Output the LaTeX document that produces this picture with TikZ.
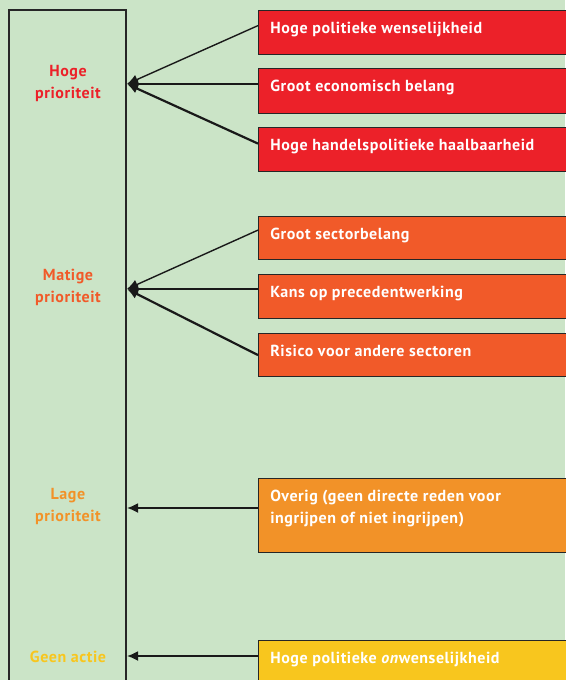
\documentclass[tikz,border=0pt]{standalone}
\usepackage{fontspec}
\setmainfont{PT Sans}
\usetikzlibrary{arrows.meta}

\definecolor{bgGroen}{HTML}{CBE4C7}
\definecolor{rood}{HTML}{EC2129}
\definecolor{oranjerood}{HTML}{F15A29}
\definecolor{oranje}{HTML}{F29228}
\definecolor{geel}{HTML}{F8C61E}

\newcommand{\lettertype}{\bfseries\fontsize{16}{22}\selectfont\addfontfeature{LetterSpace=3.5}}

\tikzset{
  reden/.style={draw=black!85, line width=1.2pt, anchor=north west, minimum width=330pt, inner sep=0pt},
  redtxt/.style={anchor=north west, text=white, font=\lettertype, align=left, inner sep=0pt},
  priotxt/.style={align=center, font=\lettertype},
  pijl/.style={-{Latex[length=11pt,width=10pt]}, line width=1.8pt, black!90}
}

\begin{document}
\begin{tikzpicture}[x=1pt, y=-1pt, >=latex, semithick]
  \useasboundingbox[fill=bgGroen] (0,0) rectangle (565,680);

  % prioriteitenkolom
  \draw[black!85, line width=1.2pt] (126,700) -- (126,10) -- (9,10) -- (9,700);
  \path (68,83) node[priotxt, text=rood] (hoog) {Hoge\\prioriteit};
  \path (68,287) node[priotxt, text=oranjerood] (matig) {Matige\\prioriteit};
  \path (68,506) node[priotxt, text=oranje] (laag) {Lage\\prioriteit};
  \path (68,657) node[priotxt, text=geel] (geen) {Geen actie};
  \coordinate (pHoog) at (127,84);
  \coordinate (pMatig) at (127,289);
  \coordinate (pLaag) at (127,508);
  \coordinate (pGeen) at (127,656);

  % redenen
  \node[reden, fill=rood, minimum height=44pt] (r1) at (258,10) {};
  \node[reden, fill=rood, minimum height=45pt] (r2) at (258,68) {};
  \node[reden, fill=rood, minimum height=44pt] (r3) at (258,127) {};
  \node[reden, fill=oranjerood, minimum height=43pt] (m1) at (258,216) {};
  \node[reden, fill=oranjerood, minimum height=44pt] (m2) at (258,274) {};
  \node[reden, fill=oranjerood, minimum height=43pt] (m3) at (258,333) {};
  \node[reden, fill=oranje, minimum height=74pt] (l1) at (258,478) {};
  \node[reden, fill=geel, minimum height=60pt] (g1) at (258,640) {};

  \foreach \b/\t in {r1/Hoge politieke wenselijkheid, r2/Groot economisch belang,
      r3/Hoge handelspolitieke haalbaarheid, m1/Groot sectorbelang,
      m2/Kans op precedentwerking, m3/Risico voor andere sectoren,
      l1/{Overig (geen directe reden voor\\ingrijpen of niet ingrijpen)},
      g1/{Hoge politieke \emph{on}wenselijkheid}}
    \node[redtxt] (\b-tekst) at ([shift={(12pt,-12pt)}]\b.north west) {\t};

  % pijlen
  \draw[pijl, line width=1.4pt] ([yshift=7pt]r1.west) -- (pHoog);
  \draw[pijl] (r2.west |- pHoog) -- (pHoog);
  \draw[pijl, line width=2.2pt] ([yshift=6pt]r3.west) -- (pHoog);
  \draw[pijl, line width=1.4pt] ([yshift=8pt]m1.west) -- (pMatig);
  \draw[pijl] (m2.west |- pMatig) -- (pMatig);
  \draw[pijl, line width=2.2pt] (m3.west) -- (pMatig);
  \draw[pijl] (l1.west |- pLaag) -- (pLaag);
  \draw[pijl] (g1.west |- pGeen) -- (pGeen);
\end{tikzpicture}
\end{document}
